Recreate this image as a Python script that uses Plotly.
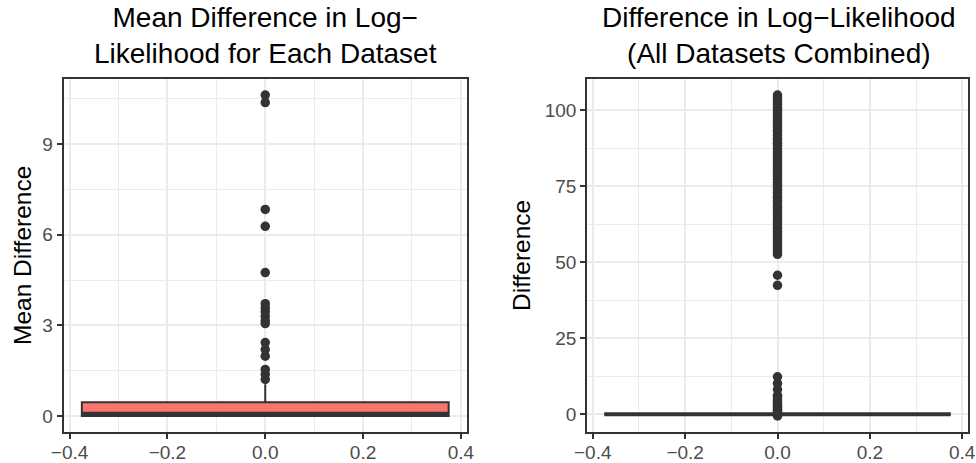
import plotly.graph_objects as go

# ---------------- data ----------------
box_width = 0.75

# Left panel: mean difference per dataset (summary stats + outliers)
left_stats = dict(lowerfence=0.0, q1=0.0, median=0.07, q3=0.45, upperfence=1.05)
left_outliers = [10.63, 10.38, 6.84, 6.28, 4.75, 3.72, 3.58, 3.45, 3.30, 3.16, 3.06,
                 2.43, 2.20, 1.98, 1.54, 1.38, 1.21]

# Right panel: all datasets combined
right_stats = dict(lowerfence=0.0, q1=0.0, median=0.0, q3=0.0, upperfence=0.0)
right_outliers = [105.0, 104.2, 103.4, 102.7, 101.8, 101.0, 100.2, 99.4, 98.5, 97.7,
                  96.8, 96.0, 95.1, 94.2, 93.4, 92.5, 91.7, 90.8, 90.0, 89.1,
                  88.3, 87.4, 86.6, 85.7, 84.9, 84.0, 83.2, 82.3, 81.5, 80.6,
                  79.8, 78.9, 78.1, 77.2, 76.4, 75.5, 74.7, 73.8, 73.0, 72.1,
                  71.3, 70.4, 69.6, 68.7, 67.9, 67.0, 66.2, 65.3, 64.5, 63.6,
                  62.8, 61.9, 61.1, 60.2, 59.4, 58.5, 57.7, 56.8, 56.0, 55.1,
                  54.3, 53.4, 52.6, 45.7, 42.4,
                  12.3, 10.1, 8.1, 6.2, 5.6, 5.0, 4.3, 3.8, 3.2, 2.7, 2.2,
                  1.8, 1.4, 1.0, 0.7, 0.3, 0.0, -0.3, -0.6]

left_yticks = [0, 3, 6, 9]
right_yticks = [0, 25, 50, 75, 100]
xticks = [-0.4, -0.2, 0.0, 0.2, 0.4]
xtick_labels = ["\u22120.4", "\u22120.2", "0.0", "0.2", "0.4"]

titles = ["Mean Difference in Log\u2212<br>Likelihood for Each Dataset",
          "Difference in Log\u2212Likelihood<br>(All Datasets Combined)"]
ytitles = ["Mean Difference", "Difference"]

# ---------------- style ----------------
FONT = "Liberation Sans, Arial, Helvetica, sans-serif"
BORDER = "#333333"
GRID = "#EBEBEB"
TICKC = "#4D4D4D"
FILL = "#F8766D"
W, H = 976, 463

fig = go.Figure()


def add_panel(stats, outliers, xa, ya):
    half = box_width / 2
    fig.add_trace(go.Box(
        x=[0], q1=[stats["q1"]], median=[stats["median"]], q3=[stats["q3"]],
        lowerfence=[stats["lowerfence"]], upperfence=[stats["upperfence"]],
        width=box_width, fillcolor=FILL, line=dict(color=BORDER, width=2),
        whiskerwidth=0, boxpoints=False, xaxis=xa, yaxis=ya, showlegend=False,
        hoverinfo="skip"))
    # thick median line (ggplot fatten)
    fig.add_trace(go.Scatter(
        x=[-half, half], y=[stats["median"], stats["median"]], mode="lines",
        line=dict(color=BORDER, width=4), xaxis=xa, yaxis=ya, showlegend=False,
        hoverinfo="skip"))
    fig.add_trace(go.Scatter(
        x=[0] * len(outliers), y=outliers, mode="markers",
        marker=dict(color=BORDER, size=9.5, line=dict(width=0)),
        xaxis=xa, yaxis=ya, showlegend=False, hoverinfo="skip"))


add_panel(left_stats, left_outliers, "x", "y")
add_panel(right_stats, right_outliers, "x2", "y2")


def yrange(stats, outliers):
    lo = min(min(outliers), stats["lowerfence"])
    hi = max(max(outliers), stats["upperfence"])
    s = hi - lo
    return [lo - 0.05 * s, hi + 0.05 * s]


half = box_width / 2
xr = [-half * 1.1, half * 1.1]

common_x = dict(range=xr, tickmode="array", tickvals=xticks, ticktext=xtick_labels,
                showgrid=True, gridcolor=GRID, gridwidth=1.7,
                minor=dict(dtick=0.1, showgrid=True, gridcolor=GRID, gridwidth=1),
                zeroline=False, showline=True, mirror=True, linecolor=BORDER,
                linewidth=1.5, ticks="outside", ticklen=5, tickcolor=BORDER,
                tickwidth=1.5, tickfont=dict(family=FONT, size=19, color=TICKC),
                ticklabelstandoff=-3, automargin=False)
common_y = dict(showgrid=True, gridcolor=GRID, gridwidth=1.7,
                zeroline=False, showline=True, mirror=True, linecolor=BORDER,
                linewidth=1.5, ticks="outside", ticklen=5, tickcolor=BORDER,
                tickwidth=1.5, tickfont=dict(family=FONT, size=19, color=TICKC),
                automargin=False, domain=[31 / H, 384 / H])

fig.update_layout(
    width=W, height=H, margin=dict(l=0, r=0, t=0, b=0),
    paper_bgcolor="white", plot_bgcolor="white",
    xaxis=dict(common_x, domain=[63.5 / W, 467 / W], anchor="y"),
    xaxis2=dict(common_x, domain=[587 / W, 968 / W], anchor="y2"),
    yaxis=dict(common_y, range=yrange(left_stats, left_outliers), anchor="x",
               tickvals=left_yticks,
               minor=dict(dtick=1.5, tick0=0, showgrid=True, gridcolor=GRID, gridwidth=1)),
    yaxis2=dict(common_y, range=yrange(right_stats, right_outliers), anchor="x2",
                tickvals=right_yticks,
                minor=dict(dtick=12.5, tick0=0, showgrid=True, gridcolor=GRID, gridwidth=1)),
    showlegend=False,
)

# titles
for xc, t in zip([265.5 / W, 779 / W], titles):
    fig.add_annotation(text=t, x=xc, y=1 - 35 / H, xref="paper", yref="paper",
                       xanchor="center", yanchor="middle", showarrow=False,
                       font=dict(family=FONT, size=28, color="black"))

# axis titles
for xc, t in zip([22 / W, 521 / W], ytitles):
    fig.add_annotation(text=t, x=xc, y=1 - 256 / H, xref="paper", yref="paper",
                       xanchor="center", yanchor="middle", showarrow=False,
                       textangle=-90, font=dict(family=FONT, size=24.5, color="black"))

fig.write_html("out.html", config={"displayModeBar": False},
               post_script="document.body.style.margin='0';document.body.style.overflow='hidden';")
